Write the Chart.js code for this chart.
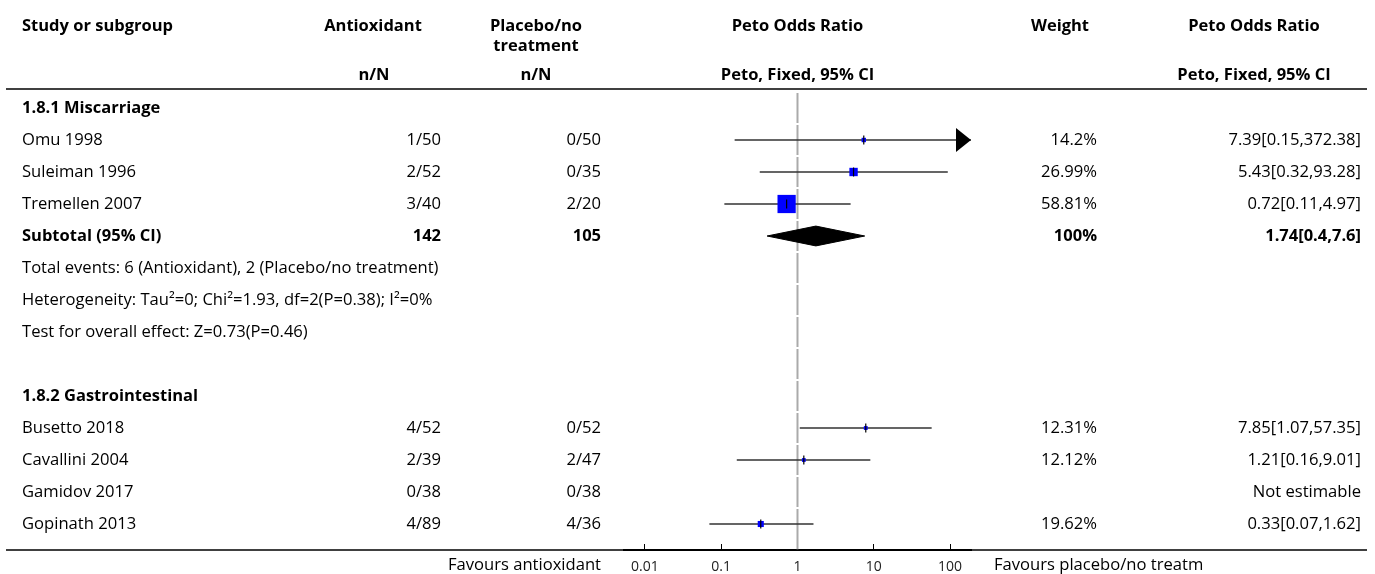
<!DOCTYPE html>
<html><head><meta charset="utf-8">
<script src="https://cdn.jsdelivr.net/npm/chart.js@4.4.0/dist/chart.umd.min.js"></script>
<style>html,body{margin:0;padding:0;background:#fff;overflow:hidden}canvas{display:block}</style>
</head><body>
<canvas id="c" width="1375" height="574"></canvas>
<script>
// ---------------- DATA ----------------
const subgroupNames = ['1.8.1 Miscarriage', '1.8.2 Gastrointestinal'];
const subgroupRows = [0, 9];
const studyNames = ['Omu 1998', 'Suleiman 1996', 'Tremellen 2007', 'Busetto 2018', 'Cavallini 2004', 'Gamidov 2017', 'Gopinath 2013'];
const studyRows = [1, 2, 3, 10, 11, 12, 13];
const antioxidantNN = ['1/50', '2/52', '3/40', '4/52', '2/39', '0/38', '4/89'];
const placeboNN = ['0/50', '0/35', '2/20', '0/52', '2/47', '0/38', '4/36'];
const weights = [14.2, 26.99, 58.81, 12.31, 12.12, null, 19.62];
const weightLabels = ['14.2%', '26.99%', '58.81%', '12.31%', '12.12%', '', '19.62%'];
const oddsRatios = [7.39, 5.43, 0.72, 7.85, 1.21, null, 0.33];
const ciLow = [0.15, 0.32, 0.11, 1.07, 0.16, null, 0.07];
const ciHigh = [372.38, 93.28, 4.97, 57.35, 9.01, null, 1.62];
const orLabels = ['7.39[0.15,372.38]', '5.43[0.32,93.28]', '0.72[0.11,4.97]', '7.85[1.07,57.35]', '1.21[0.16,9.01]', 'Not estimable', '0.33[0.07,1.62]'];

const subtotalRow = 4;
const subtotalLabel = 'Subtotal (95% CI)';
const subtotalAntioxidant = '142';
const subtotalPlacebo = '105';
const subtotalWeight = '100%';
const subtotalOR = 1.74;
const subtotalLow = 0.4;
const subtotalHigh = 7.6;
const subtotalORLabel = '1.74[0.4,7.6]';

const statLines = [
  'Total events: 6 (Antioxidant), 2 (Placebo/no treatment)',
  'Heterogeneity: Tau\u00B2=0; Chi\u00B2=1.93, df=2(P=0.38); I\u00B2=0%',
  'Test for overall effect: Z=0.73(P=0.46)'
];
const statRows = [5, 6, 7];

const tickValues = [0.01, 0.1, 1, 10, 100];
const tickLabels = ['0.01', '0.1', '1', '10', '100'];
const favoursLeft = 'Favours antioxidant';
const favoursRight = 'Favours placebo/no treatm';

// ---------------- LAYOUT / STYLE ----------------
const W = 1375, H = 574;
const X_MIN = 0.00532, X_MAX = 188;
const ROW_COUNT = 14;
const Y_MIN = -0.5, Y_MAX = 13.8125;
const PLOT_LEFT = 624, PLOT_RIGHT = 971, PLOT_TOP = 92, AXIS_H = 24;
const SQUARE_PX_PER_PCT = 0.31;
const DIAMOND_HALF = 0.31;
const FONT = '"Open Sans", "Noto Sans", sans-serif';
const FS = 16.6, FSB = 16.5;

// arrow image for CIs running beyond the axis
function makeArrow() {
  const c = document.createElement('canvas');
  c.width = 32; c.height = 26;
  const g = c.getContext('2d');
  g.fillStyle = '#000';
  g.beginPath(); g.moveTo(1, 1); g.lineTo(16, 13); g.lineTo(1, 25); g.closePath(); g.fill();
  return c;
}
const arrowImg = makeArrow();

// ---------------- DATASETS ----------------
const refData = [];
for (let r = 0; r < ROW_COUNT; r++) {
  refData.push({x: 1, y: r - 0.47});
  refData.push({x: 1, y: r === ROW_COUNT - 1 ? Y_MAX : r + 0.47});
  refData.push({x: 1, y: null});
}
const ciData = [];
const sqData = [], sqRadius = [];
const tickData = [];
const arrowData = [];
studyNames.forEach((n, i) => {
  if (oddsRatios[i] == null) return;
  const r = studyRows[i];
  ciData.push({x: ciLow[i], y: r}, {x: ciHigh[i], y: r}, {x: 1, y: null});
  sqData.push({x: oddsRatios[i], y: r});
  sqRadius.push(weights[i] * SQUARE_PX_PER_PCT / Math.SQRT2);
  tickData.push({x: oddsRatios[i], y: r});
  if (ciHigh[i] > X_MAX) arrowData.push({x: X_MAX, y: r});
});

const textPlugin = {
  id: 'forestText',
  afterDraw(chart) {
    const ctx = chart.ctx;
    const ys = chart.scales.y;
    const yp = r => ys.getPixelForValue(r);
    ctx.save();
    ctx.fillStyle = '#000';
    ctx.textBaseline = 'middle';
    const bold = `bold ${FSB}px ${FONT}`, reg = `${FS}px ${FONT}`;
    function t(s, x, y, align, font) { ctx.font = font; ctx.textAlign = align; ctx.fillText(s, x, y); }
    // header
    t('Study or subgroup', 22, 26, 'left', bold);
    t('Antioxidant', 373, 26, 'center', bold);
    t('n/N', 374, 75, 'center', bold);
    t('Placebo/no', 536, 26, 'center', bold);
    t('treatment', 536, 46, 'center', bold);
    t('n/N', 536, 75, 'center', bold);
    t('Peto Odds Ratio', 797.5, 26, 'center', bold);
    t('Peto, Fixed, 95% CI', 797.5, 75, 'center', bold);
    t('Weight', 1060, 26, 'center', bold);
    t('Peto Odds Ratio', 1254, 26, 'center', bold);
    t('Peto, Fixed, 95% CI', 1254, 75, 'center', bold);
    // rule lines
    ctx.strokeStyle = '#000'; ctx.lineWidth = 1.5;
    ctx.beginPath(); ctx.moveTo(6, 89); ctx.lineTo(1367, 89); ctx.stroke();
    ctx.beginPath(); ctx.moveTo(6, chart.chartArea.bottom); ctx.lineTo(1367, chart.chartArea.bottom); ctx.stroke();
    // subgroups
    subgroupNames.forEach((s, i) => t(s, 22, yp(subgroupRows[i]), 'left', bold));
    // studies
    studyNames.forEach((s, i) => {
      const y = yp(studyRows[i]);
      t(s, 22, y, 'left', reg);
      t(antioxidantNN[i], 441, y, 'right', reg);
      t(placeboNN[i], 601, y, 'right', reg);
      t(weightLabels[i], 1097, y, 'right', reg);
      t(orLabels[i], 1361, y, 'right', reg);
    });
    // subtotal
    const sy = yp(subtotalRow);
    t(subtotalLabel, 22, sy, 'left', bold);
    t(subtotalAntioxidant, 441, sy, 'right', bold);
    t(subtotalPlacebo, 601, sy, 'right', bold);
    t(subtotalWeight, 1097, sy, 'right', bold);
    t(subtotalORLabel, 1361, sy, 'right', bold);
    statLines.forEach((s, i) => t(s, 22, yp(statRows[i]), 'left', reg));
    // favours
    t(favoursLeft, 601, 565.5, 'right', reg);
    t(favoursRight, 994, 565.5, 'left', reg);
    ctx.restore();
  }
};

new Chart(document.getElementById('c'), {
  type: 'scatter',
  data: {
    datasets: [
      { // reference line at 1
        data: refData, showLine: true, borderColor: '#aaaaaa', borderWidth: 2,
        pointRadius: 0, order: 6, spanGaps: false
      },
      { // confidence intervals
        data: ciData, showLine: true, borderColor: '#333333', borderWidth: 1.6,
        pointRadius: 0, order: 5, spanGaps: false
      },
      { // diamond upper
        data: [{x: subtotalLow, y: subtotalRow}, {x: subtotalOR, y: subtotalRow - DIAMOND_HALF}, {x: subtotalHigh, y: subtotalRow}],
        showLine: true, borderColor: '#000', backgroundColor: '#000', borderWidth: 1,
        pointRadius: 0, fill: '+1', order: 4
      },
      { // diamond lower
        data: [{x: subtotalLow, y: subtotalRow}, {x: subtotalOR, y: subtotalRow + DIAMOND_HALF}, {x: subtotalHigh, y: subtotalRow}],
        showLine: true, borderColor: '#000', backgroundColor: '#000', borderWidth: 1,
        pointRadius: 0, fill: false, order: 4
      },
      { // weight squares
        data: sqData, pointStyle: 'rect', pointRadius: sqRadius, backgroundColor: '#0000ff',
        pointBackgroundColor: '#0000ff', pointBorderWidth: 0, borderWidth: 0, order: 3
      },
      { // point estimate ticks
        data: tickData, pointStyle: 'line', pointRotation: 90, pointRadius: 4.5,
        pointBorderColor: '#000', pointBorderWidth: 1.2, order: 2
      },
      { // arrows for truncated CIs
        data: arrowData, pointStyle: arrowImg, pointRadius: 10, order: 1, clip: false
      }
    ]
  },
  options: {
    responsive: false,
    devicePixelRatio: 1,
    animation: false,
    events: [],
    layout: {padding: {left: PLOT_LEFT, right: W - PLOT_RIGHT, top: PLOT_TOP, bottom: 0}},
    plugins: {legend: {display: false}, tooltip: {enabled: false}},
    scales: {
      x: {
        type: 'logarithmic', position: 'bottom', min: X_MIN, max: X_MAX,
        afterBuildTicks: s => { s.ticks = tickValues.map(v => ({value: v})); },
        afterFit: s => { s.height = AXIS_H; },
        ticks: {
          autoSkip: false, maxRotation: 0, padding: 15, color: '#222',
          font: {family: FONT, size: 14},
          callback: (v) => { const i = tickValues.findIndex(t => Math.abs(t - v) / t < 1e-6); return i >= 0 ? tickLabels[i] : ''; }
        },
        grid: {drawOnChartArea: false, drawTicks: true, tickLength: -6, color: '#000', lineWidth: 1},
        border: {display: true, color: '#000', width: 2}
      },
      y: {type: 'linear', reverse: true, min: Y_MIN, max: Y_MAX, display: false}
    }
  },
  plugins: [textPlugin]
});
</script>
</body></html>
